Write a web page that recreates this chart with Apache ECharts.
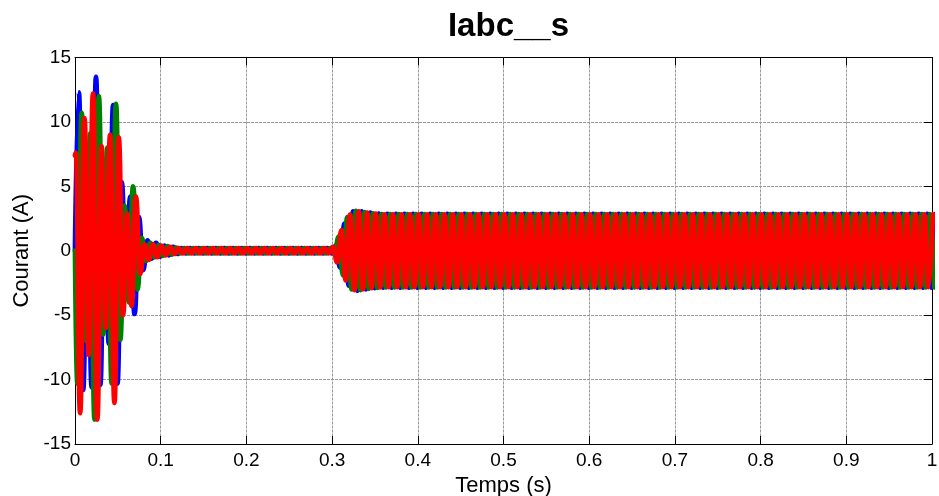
<!DOCTYPE html>
<html>
<head>
<meta charset="utf-8">
<title>Iabc__s</title>
<script src="https://cdn.jsdelivr.net/npm/echarts/dist/echarts.min.js"></script>
<style>
  html, body { margin: 0; padding: 0; background: #fff; }
  #main { width: 939px; height: 496px; }
</style>
</head>
<body>
<div id="main"></div>
<script>
// Stator currents of the three phases: successive extremum values (peaks and troughs),
// one every half period, starting at each phase's first extremum time.
const halfPeriod = 0.005;          // s between successive extrema
const xTicks = [0, 0.1, 0.2, 0.3, 0.4, 0.5, 0.6, 0.7, 0.8, 0.9, 1];
const yTicks = [-15, -10, -5, 0, 5, 10, 15];

const phaseNames = ['Ia', 'Ib', 'Ic'];
const firstExtremumTime = [0.0045, 0.0028, 0.001];   // blue, green, red
const initialValue = [0, 0, 7.4];                      // value at t = 0

// Phase a (blue)
const blueExtrema = [
  12.3, -10.8, 7.5, -10.6, 13.5, -10.4, 7.0, -7.2, 11.3, -10.3,
  5.3, -3.5, 4.2, -4.9, 2.6, -1.5, 0.8, -0.6, 0.6, -0.45,
  0.4, -0.35, 0.3, -0.25,
  0.2, -0.2, 0.2, -0.2, 0.2, -0.2, 0.2, -0.2, 0.2, -0.2,
  0.2, -0.2, 0.2, -0.2, 0.2, -0.2, 0.2, -0.2, 0.2, -0.2,
  0.2, -0.2, 0.2, -0.2, 0.2, -0.2, 0.2, -0.2, 0.2, -0.2,
  0.2, -0.2, 0.2, -0.2, 0.2, -0.2,
  0.4, -1.3, 2.1, -2.7, 3.05, -3.1, 3.05, -3.0, 2.95, -2.9, 2.88, -2.86,
  2.86, -2.86, 2.86, -2.86, 2.86, -2.86, 2.86, -2.86, 2.86, -2.86, 2.86, -2.86, 2.86, -2.86, 2.86, -2.86,
  2.86, -2.86, 2.86, -2.86, 2.86, -2.86, 2.86, -2.86, 2.86, -2.86, 2.86, -2.86, 2.86, -2.86, 2.86, -2.86,
  2.86, -2.86, 2.86, -2.86, 2.86, -2.86, 2.86, -2.86, 2.86, -2.86, 2.86, -2.86, 2.86, -2.86, 2.86, -2.86,
  2.86, -2.86, 2.86, -2.86, 2.86, -2.86, 2.86, -2.86, 2.86, -2.86, 2.86, -2.86, 2.86, -2.86, 2.86, -2.86,
  2.86, -2.86, 2.86, -2.86, 2.86, -2.86, 2.86, -2.86, 2.86, -2.86, 2.86, -2.86, 2.86, -2.86, 2.86, -2.86,
  2.86, -2.86, 2.86, -2.86, 2.86, -2.86, 2.86, -2.86, 2.86, -2.86, 2.86, -2.86, 2.86, -2.86, 2.86, -2.86,
  2.86, -2.86, 2.86, -2.86, 2.86, -2.86, 2.86, -2.86, 2.86, -2.86, 2.86, -2.86, 2.86, -2.86, 2.86, -2.86,
  2.86, -2.86, 2.86, -2.86, 2.86, -2.86, 2.86, -2.86, 2.86, -2.86, 2.86, -2.86, 2.86, -2.86, 2.86, -2.86,
  2.86
];

// Phase b (green)
const greenExtrema = [
  -10.3, 10.7, -7.0, 9.1, -13.1, 12.0, -6.5, 8.0, -10.3, 11.4,
  -6.9, 3.5, -4.0, 5.0, -3.0, 1.0, -0.8, 0.6, -0.5, 0.45,
  -0.4, 0.35, -0.3, 0.25,
  -0.2, 0.2, -0.2, 0.2, -0.2, 0.2, -0.2, 0.2, -0.2, 0.2,
  -0.2, 0.2, -0.2, 0.2, -0.2, 0.2, -0.2, 0.2, -0.2, 0.2,
  -0.2, 0.2, -0.2, 0.2, -0.2, 0.2, -0.2, 0.2, -0.2, 0.2,
  -0.2, 0.2, -0.2, 0.2, -0.2, 0.2,
  -0.2, 1.1, -1.9, 2.6, -3.0, 3.1, -3.05, 3.0, -2.95, 2.9, -2.88, 2.85,
  -2.85, 2.85, -2.85, 2.85, -2.85, 2.85, -2.85, 2.85, -2.85, 2.85, -2.85, 2.85, -2.85, 2.85, -2.85, 2.85,
  -2.85, 2.85, -2.85, 2.85, -2.85, 2.85, -2.85, 2.85, -2.85, 2.85, -2.85, 2.85, -2.85, 2.85, -2.85, 2.85,
  -2.85, 2.85, -2.85, 2.85, -2.85, 2.85, -2.85, 2.85, -2.85, 2.85, -2.85, 2.85, -2.85, 2.85, -2.85, 2.85,
  -2.85, 2.85, -2.85, 2.85, -2.85, 2.85, -2.85, 2.85, -2.85, 2.85, -2.85, 2.85, -2.85, 2.85, -2.85, 2.85,
  -2.85, 2.85, -2.85, 2.85, -2.85, 2.85, -2.85, 2.85, -2.85, 2.85, -2.85, 2.85, -2.85, 2.85, -2.85, 2.85,
  -2.85, 2.85, -2.85, 2.85, -2.85, 2.85, -2.85, 2.85, -2.85, 2.85, -2.85, 2.85, -2.85, 2.85, -2.85, 2.85,
  -2.85, 2.85, -2.85, 2.85, -2.85, 2.85, -2.85, 2.85, -2.85, 2.85, -2.85, 2.85, -2.85, 2.85, -2.85, 2.85,
  -2.85, 2.85, -2.85, 2.85, -2.85, 2.85, -2.85, 2.85, -2.85, 2.85, -2.85, 2.85, -2.85, 2.85, -2.85, 2.85,
  -2.85
];

// Phase c (red)
const redExtrema = [
  7.6, -12.6, 10.3, -8.1, 12.2, -13.1, 8.1, -6.0, 9.0, -11.8,
  8.8, -5.0, 2.9, -4.3, 4.2, -1.8, 0.5, -0.7, 0.5, -0.5,
  0.4, -0.35, 0.3, -0.25,
  0.2, -0.2, 0.2, -0.2, 0.2, -0.2, 0.2, -0.2, 0.2, -0.2,
  0.2, -0.2, 0.2, -0.2, 0.2, -0.2, 0.2, -0.2, 0.2, -0.2,
  0.2, -0.2, 0.2, -0.2, 0.2, -0.2, 0.2, -0.2, 0.2, -0.2,
  0.2, -0.2, 0.2, -0.2, 0.2, -0.2,
  0.3, -0.9, 1.6, -2.3, 2.8, -3.05, 3.05, -3.0, 2.95, -2.9, 2.88, -2.85,
  2.83, -2.83, 2.83, -2.83, 2.83, -2.83, 2.83, -2.83, 2.83, -2.83, 2.83, -2.83, 2.83, -2.83, 2.83, -2.83,
  2.83, -2.83, 2.83, -2.83, 2.83, -2.83, 2.83, -2.83, 2.83, -2.83, 2.83, -2.83, 2.83, -2.83, 2.83, -2.83,
  2.83, -2.83, 2.83, -2.83, 2.83, -2.83, 2.83, -2.83, 2.83, -2.83, 2.83, -2.83, 2.83, -2.83, 2.83, -2.83,
  2.83, -2.83, 2.83, -2.83, 2.83, -2.83, 2.83, -2.83, 2.83, -2.83, 2.83, -2.83, 2.83, -2.83, 2.83, -2.83,
  2.83, -2.83, 2.83, -2.83, 2.83, -2.83, 2.83, -2.83, 2.83, -2.83, 2.83, -2.83, 2.83, -2.83, 2.83, -2.83,
  2.83, -2.83, 2.83, -2.83, 2.83, -2.83, 2.83, -2.83, 2.83, -2.83, 2.83, -2.83, 2.83, -2.83, 2.83, -2.83,
  2.83, -2.83, 2.83, -2.83, 2.83, -2.83, 2.83, -2.83, 2.83, -2.83, 2.83, -2.83, 2.83, -2.83, 2.83, -2.83,
  2.83, -2.83, 2.83, -2.83, 2.83, -2.83, 2.83, -2.83, 2.83, -2.83, 2.83, -2.83, 2.83, -2.83, 2.83, -2.83,
  2.83
];

const extremaLists = [blueExtrema, greenExtrema, redExtrema];
const phaseColors = ['#0000ff', '#008000', '#ff0000'];

// [time, current] pairs: starting value, then one extremum per half period
function buildSeriesData(i) {
  const pts = [[0, initialValue[i]]];
  extremaLists[i].forEach(function (v, k) {
    pts.push([firstExtremumTime[i] + k * halfPeriod, v]);
  });
  return pts;
}

const FONT = 'Liberation Sans, Arial, Helvetica, sans-serif';

const chart = echarts.init(document.getElementById('main'), null, { renderer: 'canvas' });

const gridLine = { show: true, lineStyle: { color: '#9a9a9a', width: 1, type: [3, 1] } };
const boxLine = { show: true, onZero: false, lineStyle: { color: '#000', width: 1 } };
const inwardTick = { show: true, inside: true, length: 8, lineStyle: { color: '#000', width: 1 } };

chart.setOption({
  animation: false,
  backgroundColor: '#ffffff',
  title: {
    text: 'Iabc__s',
    left: 503.5,
    top: 5,
    textAlign: 'center',
    textStyle: { fontFamily: FONT, fontWeight: 'bold', fontSize: 33, color: '#000' }
  },
  grid: { left: 75, right: 7, top: 57.5, bottom: 52, containLabel: false, outerBoundsMode: 'none' },
  xAxis: [
    {
      type: 'value', position: 'bottom',
      min: xTicks[0], max: xTicks[xTicks.length - 1], interval: xTicks[1] - xTicks[0],
      axisLine: boxLine, axisTick: inwardTick, splitLine: gridLine,
      axisLabel: { color: '#000', fontFamily: FONT, fontSize: 19, margin: 7 },
      name: 'Temps (s)', nameLocation: 'middle', nameGap: 26,
      nameTextStyle: { color: '#000', fontFamily: FONT, fontSize: 22 }
    },
    {
      type: 'value', position: 'top',
      min: xTicks[0], max: xTicks[xTicks.length - 1], interval: xTicks[1] - xTicks[0],
      axisLine: boxLine, axisTick: inwardTick, splitLine: { show: false },
      axisLabel: { show: false }
    }
  ],
  yAxis: [
    {
      type: 'value', position: 'left',
      min: yTicks[0], max: yTicks[yTicks.length - 1], interval: yTicks[1] - yTicks[0],
      axisLine: boxLine, axisTick: inwardTick, splitLine: gridLine,
      axisLabel: { color: '#000', fontFamily: FONT, fontSize: 19, margin: 4 },
      name: 'Courant (A)', nameLocation: 'middle', nameGap: 41, nameRotate: 90,
      nameTextStyle: { color: '#000', fontFamily: FONT, fontSize: 22 }
    },
    {
      type: 'value', position: 'right',
      min: yTicks[0], max: yTicks[yTicks.length - 1], interval: yTicks[1] - yTicks[0],
      axisLine: boxLine, axisTick: inwardTick, splitLine: { show: false },
      axisLabel: { show: false }
    }
  ],
  series: phaseNames.map(function (name, i) {
    return {
      name: name,
      type: 'line',
      xAxisIndex: 0,
      yAxisIndex: 0,
      data: buildSeriesData(i),
      showSymbol: false,
      symbol: 'none',
      smooth: 0.5,
      smoothMonotone: 'x',
      clip: true,
      lineStyle: { color: phaseColors[i], width: 4.8, cap: 'round', join: 'round' },
      emphasis: { disabled: true },
      silent: true,
      z: 2 + i
    };
  })
});
</script>
</body>
</html>
